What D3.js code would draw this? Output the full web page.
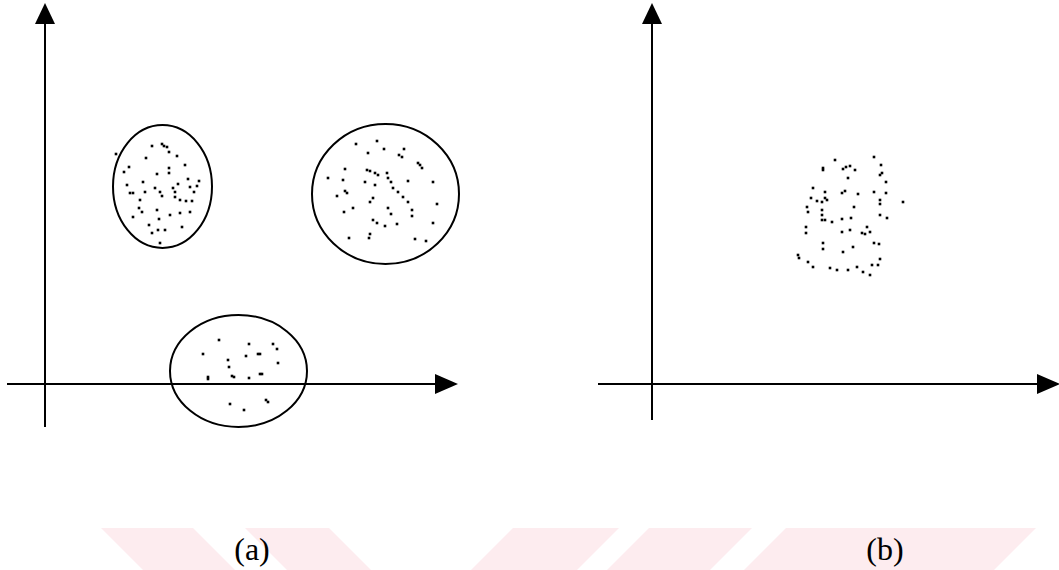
<!DOCTYPE html>
<html>
<head>
<meta charset="utf-8">
<script src="https://cdn.jsdelivr.net/npm/d3@7/dist/d3.min.js"></script>
<style>
  html, body { margin: 0; padding: 0; background: #fff; }
  svg { display: block; }
</style>
</head>
<body>
<svg id="chart" width="1059" height="570"></svg>
<script>
// Panel captions
const panelLabels = ["(a)", "(b)"];

// Panel (a): three separated clusters, each [x, y] in feature units
const clusterTopLeft = [
  [107,238],[117,240],[119,238],[122,237],[124,232],[101,226],[132,228],[71,230],
  [84,217],[79,212],[124,216],[124,211],[140,219],[112,210],[143,205],[154,203],
  [98,202],[82,199],[88,191],[85,191],[100,192],[110,196],[115,192],[128,196],
  [130,192],[133,200],[145,197],[152,198],[149,192],[117,188],[130,187],[135,184],
  [141,183],[147,183],[95,184],[112,174],[94,176],[97,172],[125,169],[135,171],
  [145,172],[88,167],[114,165],[104,159],[137,157],[113,154],[120,154],[107,151],
  [115,141]
];
const clusterTopRight = [
  [311,240],[332,243],[339,235],[359,235],[323,231],[354,229],[357,227],[373,221],
  [375,219],[377,216],[300,215],[322,214],[325,213],[330,211],[333,209],[342,211],
  [283,206],[298,204],[320,202],[330,199],[343,206],[346,202],[348,196],[353,192],
  [358,187],[363,182],[363,203],[388,202],[292,188],[300,193],[302,191],[328,186],
  [325,182],[392,180],[308,176],[299,172],[343,176],[346,170],[367,174],[367,168],
  [328,164],[332,161],[340,158],[352,160],[388,161],[325,150],[324,146],[304,146],
  [370,145],[381,143]
];
const clusterBottom = [
  [174,44],[204,40],[228,40],[232,35],[158,30],[201,28],[213,30],[215,30],
  [183,24],[233,21],[184,17],[163,7],[163,5],[187,8],[189,7],[204,6],
  [215,10],[217,10],[185,-20],[199,-26],[221,-16],[223,-18]
];
// Cluster outlines: centre x, centre y, radius x, radius y (feature units)
const outlineCx = [117.5, 340.5, 193.5];
const outlineCy = [197.5, 190, 13];
const outlineRx = [49.5, 73.5, 68.5];
const outlineRy = [61.5, 70, 56];

// Panel (b): one unlabelled cloud of points
const cloudPoints = [
  [183,224],[222,227],[171,216],[171,214],[191,215],[194,217],[198,218],[203,214],
  [229,219],[228,209],[230,211],[196,206],[234,202],[161,196],[173,192],[190,191],
  [193,193],[206,190],[222,192],[234,191],[159,186],[165,183],[170,182],[175,184],
  [173,186],[251,182],[228,184],[228,180],[202,177],[155,177],[156,172],[170,174],
  [170,169],[170,164],[173,164],[228,169],[235,166],[180,162],[190,165],[199,166],
  [154,157],[154,151],[190,152],[198,154],[210,151],[213,150],[215,157],[218,152],
  [222,141],[227,140],[171,141],[171,135],[201,137],[191,132],[146,129],[147,126],
  [156,122],[161,117],[228,125],[220,119],[178,116],[185,114],[196,114],[205,117],
  [211,112],[218,109],[226,119]
];

const svg = d3.select("#chart");

// Pale pink diagonal bands along the bottom edge
const band = svg.append("g").attr("fill", "#fdecef");
const bandTop = 528, bandBot = 575, slant = bandBot - bandTop;
const backBands = [[101,193],[245,329]];          // leaning "\"
const fwdBands  = [[513,619],[649,752],[786,1036]]; // leaning "/"
backBands.forEach(([a,b]) => band.append("polygon")
  .attr("points", `${a},${bandTop} ${b},${bandTop} ${b+slant},${bandBot} ${a+slant},${bandBot}`));
fwdBands.forEach(([a,b]) => band.append("polygon")
  .attr("points", `${a},${bandTop} ${b},${bandTop} ${b-slant},${bandBot} ${a-slant},${bandBot}`));

// One scale pair per panel; origin sits where the two axes cross
function makePanel(ox, oy, xMin, xMax, yMin, yMax) {
  const x = d3.scaleLinear().domain([0, 100]).range([ox, ox + 100]);
  const y = d3.scaleLinear().domain([0, 100]).range([oy, oy - 100]);
  const g = svg.append("g");
  // axis lines
  g.append("line")
    .attr("x1", x(xMin)).attr("x2", x(xMax - 20))
    .attr("y1", y(0)).attr("y2", y(0))
    .attr("stroke", "#000").attr("stroke-width", 2);
  g.append("line")
    .attr("x1", x(0)).attr("x2", x(0))
    .attr("y1", y(yMin)).attr("y2", y(yMax - 18))
    .attr("stroke", "#000").attr("stroke-width", 2);
  // arrow heads
  g.append("path")
    .attr("d", `M${x(xMax - 23)},${y(10)} L${x(xMax)},${y(0)} L${x(xMax - 23)},${y(-10)} Z`)
    .attr("fill", "#000");
  g.append("path")
    .attr("d", `M${x(-10)},${y(yMax - 21)} L${x(0)},${y(yMax)} L${x(10)},${y(yMax - 21)} Z`)
    .attr("fill", "#000");
  return { x, y, g };
}

const pa = makePanel(45, 384, -38, 413, -43, 381);
const pb = makePanel(652, 384, -54, 408, -36, 381);

// Cluster outlines in panel (a)
pa.g.selectAll("ellipse.outline")
  .data(d3.range(outlineCx.length))
  .join("ellipse")
  .attr("class", "outline")
  .attr("cx", i => pa.x(outlineCx[i]))
  .attr("cy", i => pa.y(outlineCy[i]))
  .attr("rx", i => pa.x(outlineRx[i]) - pa.x(0))
  .attr("ry", i => pa.y(0) - pa.y(outlineRy[i]))
  .attr("fill", "none")
  .attr("stroke", "#000")
  .attr("stroke-width", 2);

function drawPoints(panel, pts) {
  panel.g.append("g").selectAll("rect")
    .data(pts)
    .join("rect")
    .attr("x", d => panel.x(d[0]) - 1.3)
    .attr("y", d => panel.y(d[1]) - 1.3)
    .attr("width", 2.6)
    .attr("height", 2.6)
    .attr("fill", "#000");
}
drawPoints(pa, clusterTopLeft);
drawPoints(pa, clusterTopRight);
drawPoints(pa, clusterBottom);
drawPoints(pb, cloudPoints);

// Captions under each panel
svg.selectAll("text.caption")
  .data(panelLabels)
  .join("text")
  .attr("class", "caption")
  .attr("x", (d, i) => i === 0 ? 252 : 885)
  .attr("y", 560)
  .attr("text-anchor", "middle")
  .attr("font-family", "'Liberation Serif', 'DejaVu Serif', serif")
  .attr("font-size", 32)
  .attr("fill", "#000")
  .text(d => d);
</script>
</body>
</html>
